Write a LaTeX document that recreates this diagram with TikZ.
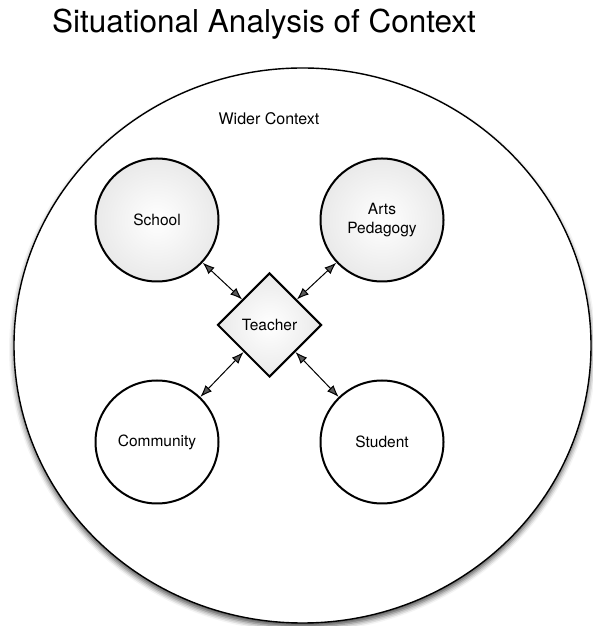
\documentclass[tikz,border=0pt]{standalone}
\usepackage{fontspec}
\setmainfont{TeX Gyre Heros}
\usetikzlibrary{shapes.geometric,arrows.meta,shadows.blur}
% soft grey fill, white in the middle
\pgfdeclareradialshading{halo}{\pgfpoint{0bp}{0bp}}{color(0bp)=(white); color(50bp)=(black!17)}
\begin{document}
\begin{tikzpicture}[x=1pt,y=1pt,
  ring/.style={circle,minimum size=123pt},
  link/.style={{Latex[length=12pt,width=9pt]}-{Latex[length=12pt,width=9pt]},line width=1pt}]
\useasboundingbox (0,0) rectangle (592,626);
\draw (264,593) node[anchor=base,font=\fontsize{31.5}{36}\selectfont]{Situational Analysis of Context};
% outer context
\draw[line width=1.4pt,fill=white,blur shadow={shadow xshift=0pt,shadow yshift=-4pt,shadow blur radius=5pt,shadow opacity=70}]
  (302.5,280.5) ellipse [x radius=288.5,y radius=277.5];
\draw (269,507) node[font=\fontsize{16}{19}\selectfont]{Wider Context};
\tikzstyle{every node}=[draw,line width=2pt,align=center,font=\fontsize{15.5}{19}\selectfont];
\node[ring,shading=halo] (sch) at (157,406) {School};
\node[ring,shading=halo] (arts) at (382,406) {Arts\\Pedagogy};
\node[ring] (com) at (157,184) {Community};
\node[ring] (stu) at (382,184) {Student};
\node[diamond,minimum size=104pt,inner sep=0pt,shading=halo] (t) at (269.5,301) {Teacher};
\draw[link] (sch) -- (t);
\draw[link] (arts) -- (t);
\draw[link] (com) -- (t);
\draw[link] (stu) -- (t);
\end{tikzpicture}
\end{document}
